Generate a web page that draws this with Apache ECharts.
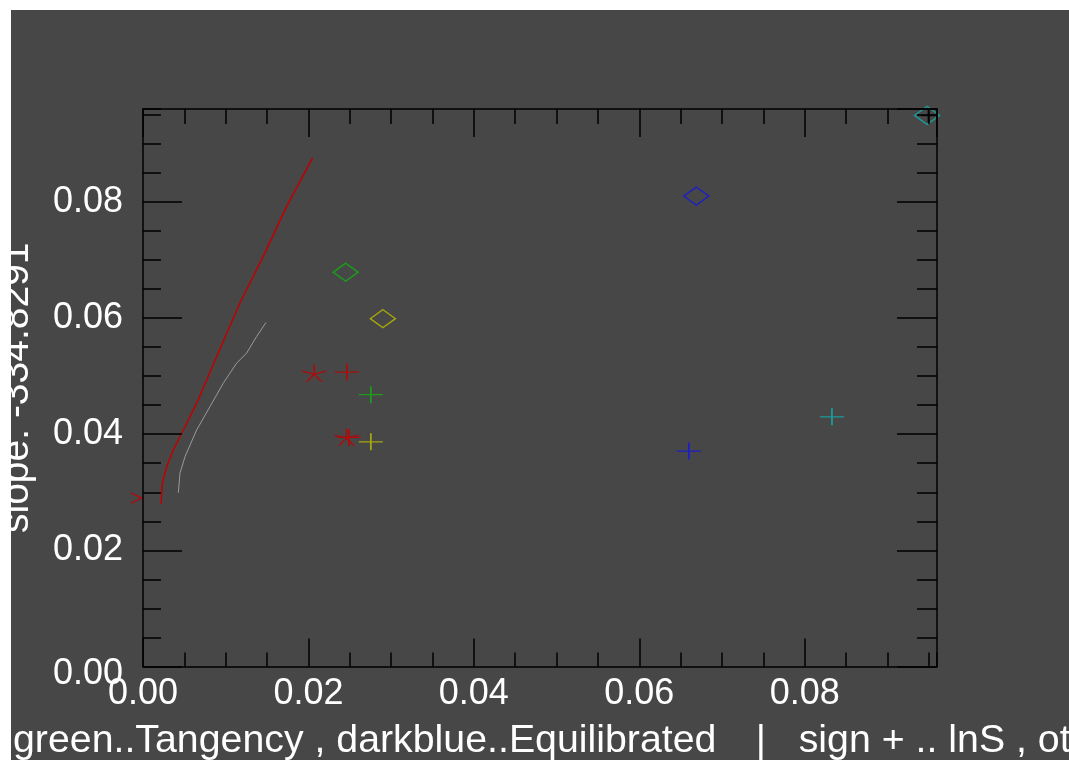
<!DOCTYPE html>
<html><head><meta charset="utf-8">
<script src="https://cdn.jsdelivr.net/npm/echarts@6/dist/echarts.min.js"></script>
<style>
html,body{margin:0;padding:0;background:#fff;width:1069px;height:760px;overflow:hidden;}
#c{position:absolute;left:11px;top:10px;width:1058px;height:750px;background:#474747;}
</style></head><body><div id="c"></div>
<script>
// ---- axis settings ----
const xMin = 0, xMax = 0.096, yMin = 0, yMax = 0.096;
const majorStep = 0.02, minorStep = 0.005;
const yTitle = 'slope: -334.8291';
const bottomText = 'green..Tangency , darkblue..Equilibrated   \u2006|   sign + .. lnS , others .. lnP';

// ---- data ----
const redCurveX = [0.00218, 0.00233, 0.00286, 0.00366, 0.00468, 0.00649, 0.00891, 0.01172, 0.01454, 0.01737, 0.02051];
const redCurveY = [0.02793, 0.03155, 0.03441, 0.03729, 0.04017, 0.04534, 0.05338, 0.06259, 0.07062, 0.07924, 0.08759];
const grayCurveX = [0.00427, 0.00447, 0.00508, 0.00649, 0.00810, 0.00971, 0.01132, 0.01253, 0.01374, 0.01487];
const grayCurveY = [0.02993, 0.03328, 0.03614, 0.04074, 0.04476, 0.04879, 0.05224, 0.05397, 0.05683, 0.05924];

const redStarX = [0.0207, 0.0246];      const redStarY = [0.0505, 0.0395];
const redPlusX = [0.02465, 0.0249];     const redPlusY = [0.0507, 0.03945];
const greenPlusX = [0.02755];           const greenPlusY = [0.0468];
const yellowPlusX = [0.02755];          const yellowPlusY = [0.0387];
const bluePlusX = [0.0660];             const bluePlusY = [0.0371];
const cyanPlusX = [0.0833];             const cyanPlusY = [0.0430];
const blackPlusX = [0.09495];           const blackPlusY = [0.0949];
const greenDiamondX = [0.0245];         const greenDiamondY = [0.0679];
const yellowDiamondX = [0.0290];        const yellowDiamondY = [0.0599];
const blueDiamondX = [0.0669];          const blueDiamondY = [0.0810];
const cyanDiamondX = [0.0948];          const cyanDiamondY = [0.0949];
const redArrowX = [-0.0008];            const redArrowY = [0.0290];

const zip = (a, b) => a.map((v, i) => [v, b[i]]);

const FONT = '"Liberation Sans", Arial, Helvetica, sans-serif';
const PLUS = 'path://M0,50L100,50M50,0L50,100';
const STAR = 'path://M50,50L50,0M50,50L97.6,34.5M50,50L2.4,34.5M50,50L20.6,90.5M50,50L79.4,90.5';
const ARROW = 'path://M0,0L100,50L0,100';

function lineSym(name, data, color, symbol, size, extra) {
  return Object.assign({
    type: 'scatter', name, data, symbol, symbolSize: size,
    xAxisIndex: 0, yAxisIndex: 0,
    itemStyle: { color: 'transparent', borderColor: color, borderWidth: 1.5 },
    emphasis: { disabled: true }, z: 5
  }, extra || {});
}

const axisLineStyle = { color: '#000', width: 1.5 };
function xAx(pos, step, len, line, label) {
  return {
    type: 'value', position: pos, min: xMin, max: xMax, interval: step,
    axisLine: { show: line, onZero: false, lineStyle: axisLineStyle },
    axisTick: { show: true, inside: true, length: len, lineStyle: axisLineStyle },
    axisLabel: label ? {
      show: true, color: '#fff', fontSize: 36, fontFamily: FONT, margin: 10,
      showMaxLabel: false, showMinLabel: true,
      formatter: v => v.toFixed(2)
    } : { show: false },
    splitLine: { show: false }, z: 10
  };
}
function yAx(pos, step, len, line, label) {
  return {
    type: 'value', position: pos, min: yMin, max: yMax, interval: step,
    axisLine: { show: line, onZero: false, lineStyle: axisLineStyle },
    axisTick: { show: true, inside: true, length: len, lineStyle: axisLineStyle },
    axisLabel: label ? {
      show: true, color: '#fff', fontSize: 36, fontFamily: FONT, margin: 20,
      showMaxLabel: false, showMinLabel: true,
      formatter: v => v === 0 ? '{z|0.00}' : v.toFixed(2),
      rich: { z: { color: '#fff', fontSize: 36, fontFamily: FONT, padding: [15, 0, 0, 0] } }
    } : { show: false },
    splitLine: { show: false }, z: 10
  };
}

const yAxes = [yAx('left', majorStep, 39, true, true), yAx('left', minorStep, 18, false, false),
               yAx('right', majorStep, 40, true, false), yAx('right', minorStep, 20, false, false)];
yAxes[0].name = yTitle;
yAxes[0].nameLocation = 'middle';
yAxes[0].nameRotate = 90;
yAxes[0].nameGap = 106;
yAxes[0].nameTextStyle = { color: '#fff', fontSize: 39, fontFamily: FONT };

const chart = echarts.init(document.getElementById('c'), null, { renderer: 'canvas' });
chart.setOption({
  animation: false,
  backgroundColor: '#474747',
  grid: { left: 132, top: 99, width: 794, height: 557.5, containLabel: false, outerBoundsMode: 'none' },
  xAxis: [xAx('bottom', majorStep, 28, true, true), xAx('bottom', minorStep, 14, false, false),
          xAx('top', majorStep, 28, true, false), xAx('top', minorStep, 15, false, false)],
  yAxis: yAxes,
  graphic: [{
    type: 'text', x: 2, y: 731, silent: true,
    style: { text: bottomText, fill: '#fff', font: '39.3px ' + FONT, verticalAlign: 'middle', textAlign: 'left' }
  }],
  series: [
    { type: 'line', data: zip(redCurveX, redCurveY), showSymbol: false, symbol: 'none',
      lineStyle: { color: '#c00000', width: 1.5 }, emphasis: { disabled: true }, z: 4 },
    { type: 'line', data: zip(grayCurveX, grayCurveY), showSymbol: false, symbol: 'none',
      lineStyle: { color: '#9a9a9a', width: 1 }, emphasis: { disabled: true }, z: 4 },
    lineSym('redStar', zip(redStarX, redStarY), '#c00000', STAR, [24, 17]),
    lineSym('redPlus', zip(redPlusX, redPlusY), '#c00000', PLUS, [24, 17]),
    lineSym('greenPlus', zip(greenPlusX, greenPlusY), '#12b012', PLUS, [24, 17]),
    lineSym('yellowPlus', zip(yellowPlusX, yellowPlusY), '#bebe00', PLUS, [24, 17]),
    lineSym('bluePlus', zip(bluePlusX, bluePlusY), '#1414e6', PLUS, [24, 17]),
    lineSym('cyanPlus', zip(cyanPlusX, cyanPlusY), '#12b0b0', PLUS, [24, 17]),
    lineSym('greenDiamond', zip(greenDiamondX, greenDiamondY), '#12b012', 'diamond', [25, 18]),
    lineSym('yellowDiamond', zip(yellowDiamondX, yellowDiamondY), '#bebe00', 'diamond', [25, 18]),
    lineSym('blueDiamond', zip(blueDiamondX, blueDiamondY), '#1414e6', 'diamond', [25, 18]),
    lineSym('cyanDiamond', zip(cyanDiamondX, cyanDiamondY), '#12b0b0', 'diamond', [25, 18], { clip: false }),
    lineSym('blackPlus', zip(blackPlusX, blackPlusY), '#000000', PLUS, [14, 14], { clip: false, z: 6 }),
    lineSym('redArrow', zip(redArrowX, redArrowY), '#c00000', ARROW, [11, 10], { clip: false })
  ]
});
</script></body></html>
